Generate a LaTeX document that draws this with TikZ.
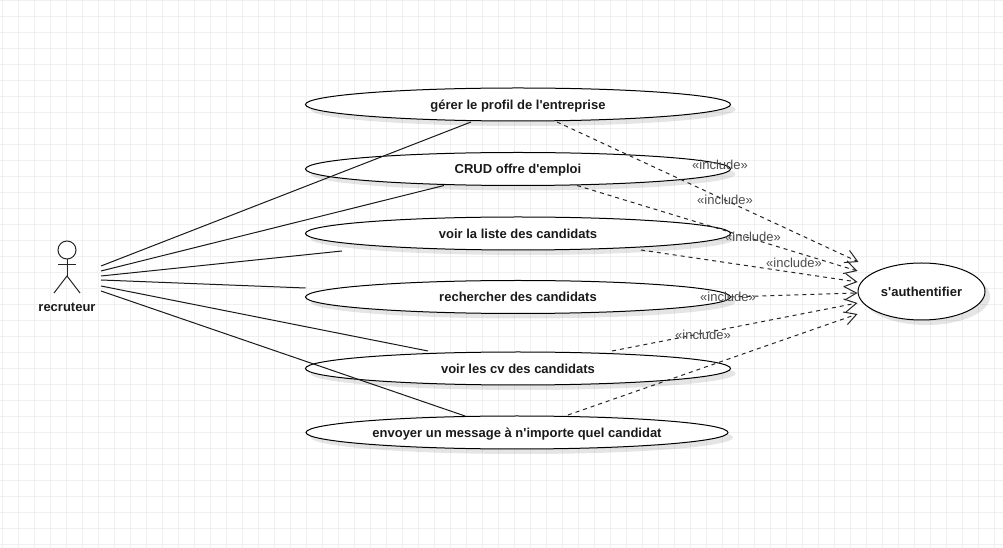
\documentclass[tikz,border=0pt]{standalone}
\usepackage{fontspec}
\setmainfont{Liberation Sans}
\usetikzlibrary{shapes.geometric,shadows,arrows.meta,calc}

\definecolor{grille}{HTML}{F0F0F0}
\definecolor{texte}{HTML}{1A1A1A}

\tikzset{every picture/.style={line width=0.75pt}}
\tikzset{
  cas/.style={ellipse,draw,fill=white,inner sep=0pt,outer sep=0pt,text=texte,
    font=\bfseries\fontsize{9.75}{11}\selectfont,text height=7pt,text depth=0pt,
    minimum width=318.75pt,minimum height=24.75pt,
    drop shadow={shadow xshift=3.75pt,shadow yshift=-3.75pt,fill=black,opacity=0.1}},
  assoc/.style={draw=black!90},
  inclusion/.style={draw=black!85,dash pattern={on 3pt off 3pt},-{Straight Barb[length=9pt,width=10pt]}},
  etiquette/.style={inner sep=0pt,text=black!70,font=\fontsize{9.75}{11}\selectfont},
}

\begin{document}
\begin{tikzpicture}[x=0.75pt,y=0.75pt,yscale=-1,xscale=1]
\useasboundingbox (0,0) rectangle (1003,548);

% Grid
\fill[white] (0,0) rectangle (1003,548);
\foreach \gx in {2.5,18.5,...,1003} \draw[grille] (\gx,0) -- (\gx,548);
\foreach \gy in {0.5,16.5,...,548} \draw[grille] (0,\gy) -- (1003,\gy);

% Use cases
\node[cas] (gerer) at (518,104.5) {gérer le profil de l\textquotesingle entreprise};
\node[cas] (crud) at (518,169) {CRUD offre d\textquotesingle emploi};
\node[cas] (liste) at (518,233.5) {voir la liste des candidats};
\node[cas] (rechercher) at (518,297) {rechercher des candidats};
\node[cas] (voircv) at (518,368.5) {voir les cv des candidats};
\node[cas,minimum width=316.5pt] (envoyer) at (517,432.5) {envoyer un message à n\textquotesingle importe quel candidat};
\node[cas,minimum width=95.25pt,minimum height=42.75pt] (auth) at (921.5,291.5) {s\textquotesingle authentifier};

% Actor
\node[circle,draw=black!85,fill=white,inner sep=0pt,outer sep=0pt,minimum size=13.5pt] (tete) at (67,250) {};
\draw[black!85] (tete.south) -- ++(0,17) coordinate (bassin);
\draw[black!85] ($(tete.south)+(-9,6)$) -- ($(tete.south)+(9,6)$);
\draw[black!85] ($(bassin)+(-13,17)$) -- (bassin) -- ($(bassin)+(13,17)$);
\node[inner sep=0pt,text=texte,font=\bfseries\fontsize{9.75}{11}\selectfont] (recruteur) at (67,307) {recruteur};

% Actor side of the associations
\coordinate (r1) at (101,266);
\coordinate (r2) at (101,271);
\coordinate (r3) at (101,276);
\coordinate (r4) at (101,280);
\coordinate (r5) at (101,286);
\coordinate (r6) at (101,291);

% Associations
\draw[assoc] (r1) -- ($(gerer.south)+(-47,1)$);
\draw[assoc] (r2) -- ($(crud.south)+(-74,0)$);
\draw[assoc] (r3) -- ($(liste.south)+(-176,1)$);
\draw[assoc] (r4) -- ($(rechercher.west)+(0,-9)$);
\draw[assoc] (r5) -- ($(voircv.north)+(-90,-1)$);
\draw[assoc] (r6) -- ($(envoyer.north)+(-52,0)$);

% Includes
\draw[inclusion] ($(gerer.south)+(39,1)$) -- ($(auth.west)+(0.5,-29.5)$);
\draw[inclusion] ($(crud.south)+(59,0)$) -- ($(auth.west)+(-0.5,-20.5)$);
\draw[inclusion] ($(liste.south)+(123,0)$) -- ($(auth.west)+(-0.5,-9.5)$);
\draw[inclusion] (rechercher.east) -- ($(auth.west)+(-0.5,1.5)$);
\draw[inclusion] ($(voircv.north)+(94,-1)$) -- ($(auth.west)+(-0.5,11.5)$);
\draw[inclusion] ($(envoyer.north)+(51,-1)$) -- ($(auth.west)+(-0.5,22.5)$);

% Text Node
\node[etiquette] (inc1) at (720,165) {«include»};
\node[etiquette] (inc2) at (725,200) {«include»};
\node[etiquette] (inc3) at (753,237) {«include»};
\node[etiquette] (inc4) at (794,263) {«include»};
\node[etiquette] (inc5) at (728,297) {«include»};
\node[etiquette] (inc6) at (703,335) {«include»};
\end{tikzpicture}
\end{document}
